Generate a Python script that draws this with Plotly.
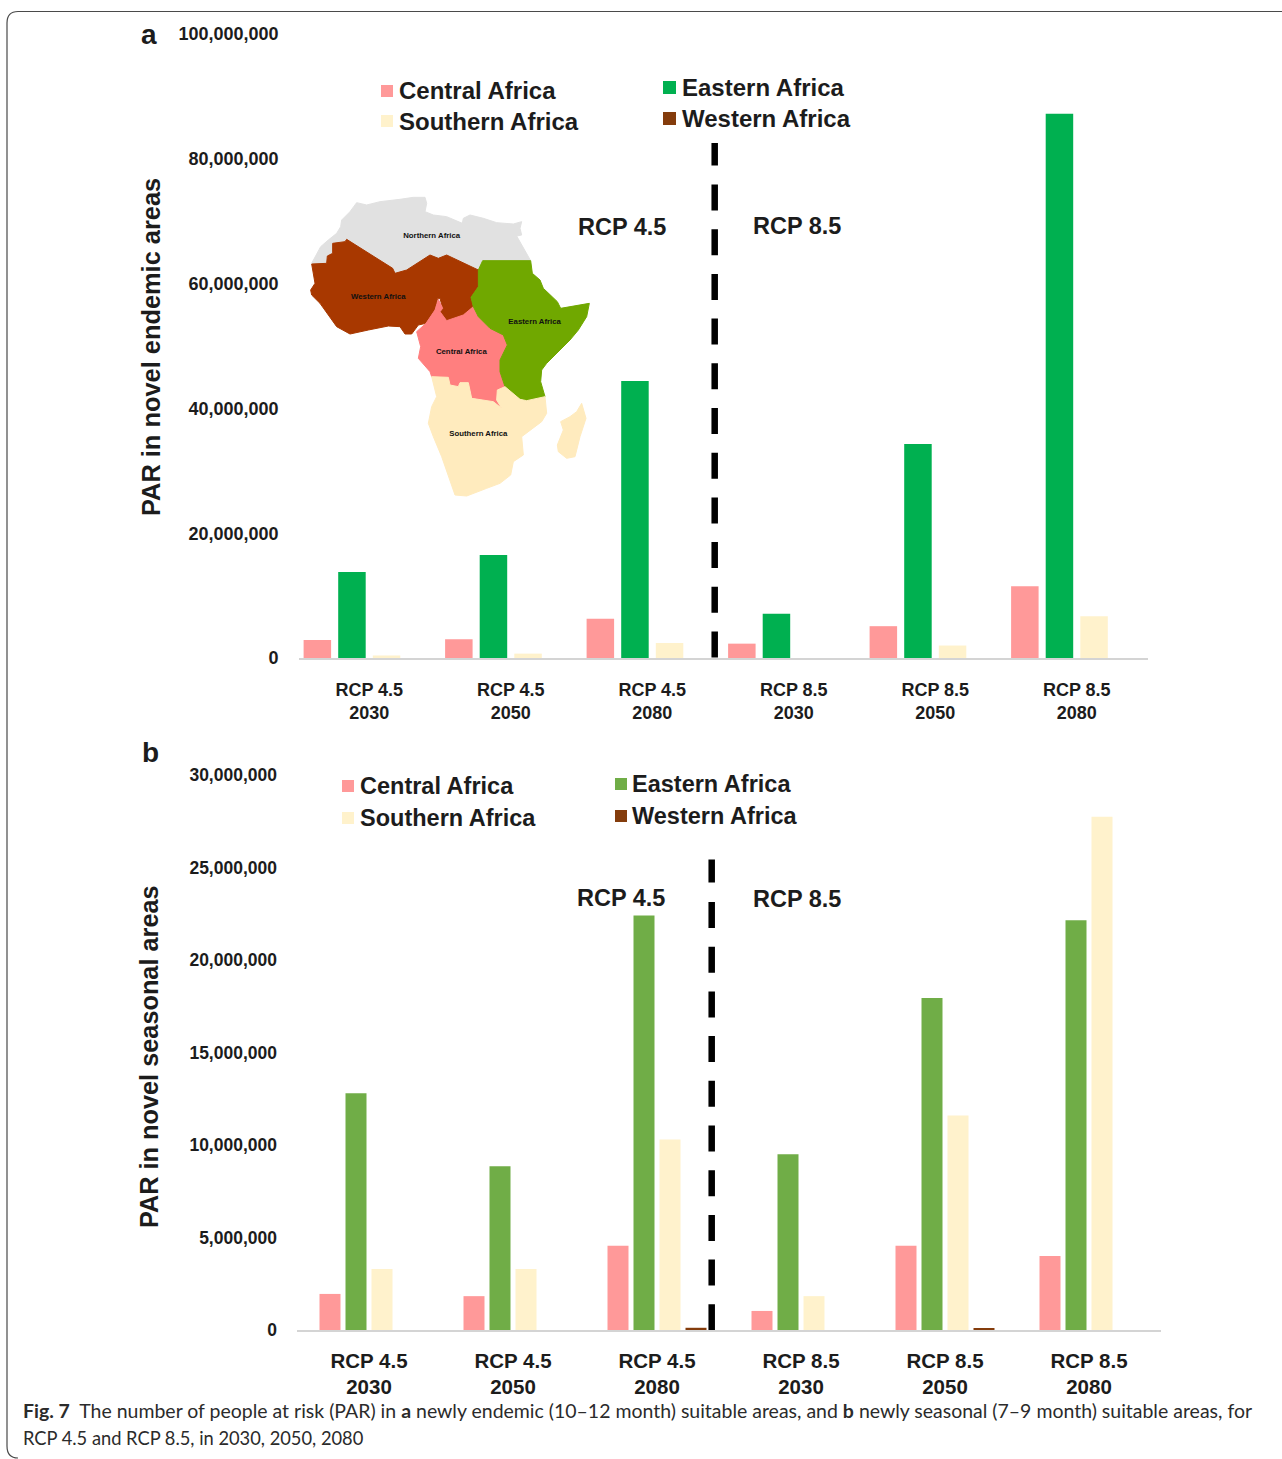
import plotly.graph_objects as go

W, H = 1282, 1459

# ---------- data ----------
groups = ["RCP 4.5<br>2030", "RCP 4.5<br>2050", "RCP 4.5<br>2080",
          "RCP 8.5<br>2030", "RCP 8.5<br>2050", "RCP 8.5<br>2080"]
series_names = ["Central Africa", "Eastern Africa", "Southern Africa", "Western Africa"]

a_central = [2900000, 3000000, 6300000, 2300000, 5100000, 11500000]
a_eastern = [13800000, 16500000, 44400000, 7100000, 34300000, 87200000]
a_southern = [400000, 700000, 2400000, 0, 2000000, 6700000]
a_western = [0, 0, 0, 0, 0, 0]

b_central = [1950000, 1830000, 4550000, 1030000, 4550000, 4000000]
b_eastern = [12800000, 8850000, 22400000, 9500000, 17950000, 22150000]
b_southern = [3300000, 3300000, 10300000, 1830000, 11600000, 27750000]
b_western = [0, 0, 120000, 0, 80000, 0]

a_ticks = [0, 20000000, 40000000, 60000000, 80000000, 100000000]
b_ticks = [0, 5000000, 10000000, 15000000, 20000000, 25000000, 30000000]

# map outlines (inset units)
map_northern = [(35,220),(50,190),(62,170),(85,150),(110,130),(122,110),(125,90),(150,65),(170,38),(200,45),
                (240,35),(300,28),(340,22),(375,22),(380,40),(375,65),(400,75),(440,80),(470,92),(487,100),
                (490,85),(510,75),(550,85),(590,98),(640,102),(665,95),(660,115),(665,135),(650,138),(672,175),(692,212),
                (548,212),(535,240),(440,195),(415,205),(390,195),(320,240),(285,250),(278,235),(140,148),
                (135,155),(98,160),(98,190),(82,198),(80,220),(35,220)]
map_western = [(35,222),(80,220),(82,198),(98,190),(98,160),(135,155),(140,148),(278,235),(285,250),(320,240),
               (390,195),(415,205),(440,195),(535,240),(535,290),(513,322),(520,350),(490,375),(440,392),
               (420,365),(428,355),(420,325),(413,325),(405,360),(378,400),(355,405),(335,432),(315,432),
               (300,410),(265,408),(205,420),(150,432),(110,410),(85,375),(60,340),(35,315),(32,300),(45,280),(35,222)]
map_central = [(415,328),(428,355),(420,365),(440,392),(490,375),(520,350),(535,380),(570,415),(610,435),
               (622,465),(600,510),(600,545),(615,590),(592,600),(590,630),(605,655),(580,635),(515,625),
               (505,578),(480,578),(475,590),(450,585),(445,562),(395,560),(390,545),(355,505),(362,470),
               (350,425),(378,400),(405,360),(415,328)]
map_eastern = [(548,212),(692,212),(697,250),(720,270),(730,295),(772,335),(782,355),(868,340),(860,380),
               (835,420),(810,450),(770,490),(740,520),(725,540),(722,575),(735,620),(680,632),(660,628),(615,590),(600,545),
               (600,510),(622,465),(610,435),(570,415),(535,380),(520,350),(513,322),(535,290),(535,240),(548,212)]
map_southern = [(395,560),(445,562),(450,585),(475,590),(480,578),(505,578),(515,625),(580,635),(605,655),
                (590,630),(592,600),(615,590),(660,628),(680,632),(735,620),(740,670),(725,695),(690,720),(665,740),
                (670,795),(640,815),(632,855),(600,880),(560,895),(500,918),(465,915),(445,860),(425,800),(400,740),
                (385,700),(395,650),(410,620),(395,560)]
map_madagascar = [(845,640),(858,685),(840,740),(825,800),(800,805),(775,785),(772,765),(790,720),(782,695),(810,680),(830,665),(845,640)]

map_labels = ["Northern Africa", "Western Africa", "Eastern Africa", "Central Africa", "Southern Africa"]
map_label_x = [395, 235, 704, 484, 535]
map_label_y = [138, 320, 395, 487, 732]

# ---------- style ----------
PINK, GREEN_A, GREEN_B, CREAM, BROWN = "#FF9999", "#00B050", "#70AD47", "#FFF2CC", "#843C0C"
FONT = "Liberation Sans, Arial, sans-serif"
INK = "#1c1c1c"
AXIS = "#D4D4D4"

def px(x): return x / W
def py(y): return 1 - y / H

fig = go.Figure()

def add_bars(vals, colors, xa, ya, width, step):
    for i, (name, v, c) in enumerate(zip(series_names, vals, colors)):
        fig.add_trace(go.Bar(x=groups, y=v, name=name, marker=dict(color=c, line=dict(width=0)),
                             xaxis=xa, yaxis=ya, width=width,
                             offset=(i - 2) * step + (step - width) / 2, showlegend=False))

add_bars([a_central, a_eastern, a_southern, a_western], [PINK, GREEN_A, CREAM, BROWN], "x", "y", 27.5/141.5, 34.6/141.5)
add_bars([b_central, b_eastern, b_southern, b_western], [PINK, GREEN_B, CREAM, BROWN], "x2", "y2", 21/144, 26/144)

for poly, col in [(map_northern, "#E1E1E1"), (map_western, "#A83800"), (map_central, "#FF7F7F"),
                  (map_eastern, "#70A800"), (map_southern, "#FFEBBE"), (map_madagascar, "#FFEBBE")]:
    fig.add_trace(go.Scatter(x=[p[0] for p in poly], y=[p[1] for p in poly], mode="lines", fill="toself",
                             fillcolor=col, line=dict(color=col, width=1), xaxis="x3", yaxis="y3",
                             showlegend=False, hoverinfo="skip"))
fig.add_trace(go.Scatter(x=map_label_x, y=map_label_y, text=map_labels, mode="text", xaxis="x3", yaxis="y3",
                         textfont=dict(family=FONT, size=7.8, color="#111111", weight="bold"),
                         showlegend=False, hoverinfo="skip"))

ytick = dict(showgrid=False, zeroline=False, showline=False, tickmode="array", tickformat=",", automargin=False,
             color=INK, ticklabelstandoff=19, ticks="")
xtick = dict(showgrid=False, zeroline=False, showline=True, linecolor=AXIS, linewidth=2, ticks="", automargin=False,
             color=INK, categoryorder="array", categoryarray=groups)

fig.update_layout(
    width=W, height=H, margin=dict(l=0, r=0, t=0, b=0), paper_bgcolor="white", plot_bgcolor="rgba(0,0,0,0)",
    showlegend=False, font=dict(family=FONT, color=INK),
    xaxis=dict(domain=[px(298.5), px(1147.5)], anchor="y", ticklabelstandoff=14,
               tickfont=dict(size=18, family=FONT, weight="bold"), **xtick),
    yaxis=dict(domain=[py(658), py(34)], anchor="x", range=[0, 100000000], tickvals=a_ticks,
               tickfont=dict(size=18, family=FONT, weight="bold"), **ytick),
    xaxis2=dict(domain=[px(297), px(1161)], anchor="y2", ticklabelstandoff=11,
                tickfont=dict(size=20.5, family=FONT, weight="bold"), **xtick),
    yaxis2=dict(domain=[py(1330), py(775)], anchor="x2", range=[0, 30000000], tickvals=b_ticks,
                tickfont=dict(size=17.5, family=FONT, weight="bold"), **ytick),
    xaxis3=dict(domain=[px(300), px(600)], anchor="y3", range=[0, 900], visible=False, automargin=False),
    yaxis3=dict(domain=[py(510), py(190)], anchor="x3", range=[960, 0], visible=False, automargin=False),
)

shapes, notes = [], []

def text(x, y, s, size, anchor="center", angle=0, bold=True, family=FONT, color=INK):
    notes.append(dict(x=px(x), y=py(y), xref="paper", yref="paper", text=s, showarrow=False, xanchor=anchor,
                      yanchor="middle", textangle=angle, align="left",
                      font=dict(size=size, family=family, color=color, weight="bold" if bold else "normal")))

def swatch(x0, y0, size, color):
    shapes.append(dict(type="rect", xref="paper", yref="paper", x0=px(x0), x1=px(x0 + size), y0=py(y0), y1=py(y0 + size),
                       fillcolor=color, line=dict(width=0)))

def dash(x, y0, first_end, y_next, y1):
    shapes.append(dict(type="line", xref="paper", yref="paper", x0=px(x), x1=px(x), y0=py(y0), y1=py(first_end),
                       line=dict(color="black", width=6.5)))
    shapes.append(dict(type="line", xref="paper", yref="paper", x0=px(x), x1=px(x), y0=py(y_next), y1=py(y1),
                       line=dict(color="black", width=6.5, dash="26px,18.7px")))

# frame
shapes.append(dict(type="path", xref="paper", yref="paper",
                   path=f"M {px(1282)} {py(11.5)} L {px(18)} {py(11.5)} Q {px(7)} {py(11.5)} {px(7)} {py(23)} "
                        f"L {px(7)} {py(1446)} Q {px(7)} {py(1458)} {px(18)} {py(1458)}",
                   line=dict(color="#4a4a4a", width=1.2)))

# panel a
text(149, 34, "a", 28)
text(151, 347, "PAR in novel endemic areas", 25.4, angle=-90)
for x, y, sx, sy, size, c, s in [(397, 90.5, 381, 85, 12, PINK, series_names[0]),
                                 (397, 121, 381, 115, 12, CREAM, series_names[2]),
                                 (680, 87.5, 663, 81, 13, GREEN_A, series_names[1]),
                                 (680, 118, 663, 112, 13, BROWN, series_names[3])]:
    swatch(sx, sy, size, c)
    text(x, y, s, 24, anchor="left")
text(622, 227, "RCP 4.5", 23.5)
text(797, 226, "RCP 8.5", 23.5)
dash(714.7, 143, 165.5, 184.5, 658)

# panel b
text(150, 752, "b", 28)
text(149, 1057, "PAR in novel seasonal areas", 25.3, angle=-90)
for x, y, sx, sy, size, c, s in [(358, 786, 342, 780, 12, PINK, series_names[0]),
                                 (358, 818, 342, 812, 12, CREAM, series_names[2]),
                                 (630, 784, 615, 778, 12, GREEN_B, series_names[1]),
                                 (630, 816, 615, 810, 12, BROWN, series_names[3])]:
    swatch(sx, sy, size, c)
    text(x, y, s, 23.5, anchor="left")
text(621, 898, "RCP 4.5", 23.5)
text(797, 898.5, "RCP 8.5", 23.5)
dash(711.7, 859.5, 882.5, 902, 1330)

# caption
CAP = "Lato, Open Sans, sans-serif"
text(21, 1410, "<b>Fig. 7</b>  The number of people at risk (PAR) in <b>a</b> newly endemic (10–12 month) suitable areas, and "
               "<b>b</b> newly seasonal (7–9 month) suitable areas, for", 19.48, anchor="left", bold=False, family=CAP, color="#2b2b2b")
text(21, 1437.5, "RCP 4.5 and RCP 8.5, in 2030, 2050, 2080", 18.3, anchor="left", bold=False, family=CAP, color="#2b2b2b")

fig.update_layout(shapes=shapes, annotations=notes)
fig.write_html("out.html", config=dict(displayModeBar=False, responsive=False),
               post_script="document.body.style.margin='0';")
